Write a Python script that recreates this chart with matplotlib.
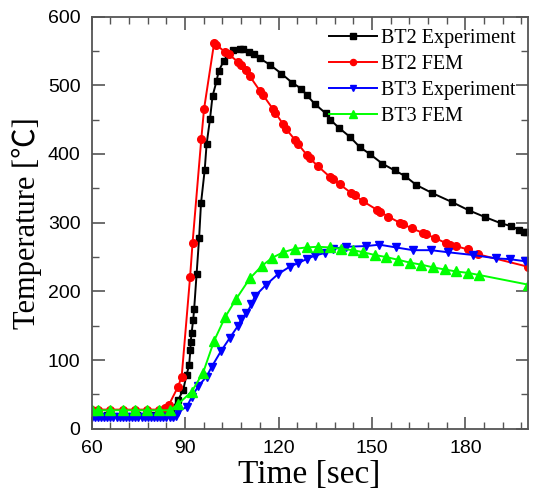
import matplotlib
matplotlib.use("Agg")
import matplotlib.pyplot as plt

# Datos (tiempo [s], temperatura [C])
bt2_exp_t = [60.1, 65.0, 69.9, 74.7, 79.6, 84.0, 85.6, 87.8, 89.4, 90.5, 91.3, 91.7, 91.8,
             92.1, 92.6, 92.9, 93.7, 94.5, 95.1, 96.3, 96.9, 98.0, 98.8, 100.1, 100.8,
             102.5, 103.8, 105.4, 107.5, 108.6, 110.5, 112.1, 114.0, 117.2, 120.9, 124.3,
             127.3, 129.0, 131.6, 135.2, 136.6, 139.4, 142.9, 146.1, 149.3, 153.3, 157.3,
             160.6, 164.2, 169.4, 175.7, 181.1, 186.4, 191.5, 194.7, 197.1, 198.7, 199.6]
bt2_exp_T = [20, 20, 20, 20, 20, 22, 28, 42, 57, 79, 93, 115, 127,
             140, 159, 174, 226, 278, 328, 377, 414, 451, 484, 506, 521,
             536, 545, 552, 553, 553, 549, 545, 539, 530, 517, 504,
             495, 486, 473, 459, 450, 438, 425, 410, 400, 386, 376,
             368, 355, 343, 330, 318, 308, 299, 295, 290, 287, 286]

bt2_fem_t = [60.1, 62.1, 66.0, 69.9, 73.8, 77.7, 81.6, 83.5, 84.8, 87.7, 88.9, 91.6, 92.4,
             95.2, 96.1, 99.3, 100.0, 102.9, 104.0, 107.0, 108.0, 109.5, 110.8, 114.0, 115.0,
             118.1, 119.0, 121.5, 122.5, 125.2, 126.2, 129.0, 130.0, 132.7, 136.4, 137.4,
             139.6, 143.4, 144.4, 147.2, 151.5, 152.5, 155.2, 158.9, 159.9, 162.7, 166.4,
             167.4, 170.1, 173.9, 174.9, 177.0, 180.8, 184.1, 200.0]
bt2_fem_T = [28, 28, 28, 28, 28, 28, 28, 30, 35, 61, 76, 221, 271,
             422, 466, 561, 559, 548, 545, 534, 529, 522, 513, 492, 486,
             466, 460, 443, 436, 421, 415, 399, 394, 382, 367, 364,
             356, 343, 340, 331, 319, 316, 309, 300, 298, 292, 285,
             283, 278, 270, 268, 266, 261, 254, 236]

bt3_exp_t = [60.1, 61.0, 62.0, 63.0, 64.0, 65.0, 66.0, 67.0, 68.0, 69.0, 70.0, 71.0, 72.0,
             73.0, 74.0, 75.0, 76.0, 77.0, 78.0, 79.0, 80.0, 81.0, 82.0, 83.0, 84.0, 85.0,
             86.0, 87.0, 87.8, 90.5, 92.1, 94.2, 96.9, 98.5, 101.5, 104.3, 107.0, 108.1,
             109.7, 111.3, 112.4, 116.1, 119.8, 123.6, 126.2, 129.0, 131.6, 134.9, 137.5,
             141.8, 148.2, 152.4, 157.7, 163.2, 169.0, 174.4, 182.4, 189.9, 194.2, 199.0, 200.0]
bt3_exp_T = [17, 17, 17, 17, 17, 17, 17, 17, 17, 17, 17, 17, 17,
             17, 17, 17, 17, 17, 17, 17, 17, 17, 17, 17, 17, 17,
             17, 18, 25, 32, 46, 62, 76, 90, 113, 132, 150, 160,
             168, 181, 193, 210, 225, 236, 241, 247, 252, 256, 262,
             265, 266, 268, 264, 260, 260, 257, 253, 248, 247, 244, 243]

bt3_fem_t = [60.1, 62.1, 66.0, 69.9, 73.8, 77.7, 81.6, 85.1, 87.7, 92.1, 95.8, 99.3, 102.9,
             106.4, 110.8, 114.6, 118.0, 121.5, 125.2, 129.0, 132.7, 136.4, 140.1, 143.9,
             147.2, 150.9, 154.6, 158.4, 162.1, 165.8, 169.6, 173.3, 177.0, 180.8, 184.3, 200.0]
bt3_fem_T = [27, 27, 27, 27, 27, 27, 27, 27, 36, 54, 82, 128, 163,
             189, 219, 237, 249, 257, 262, 264, 265, 264, 262, 260,
             257, 253, 250, 246, 242, 239, 235, 232, 229, 227, 224, 210]

serif = ["Liberation Serif", "Noto Sans CJK SC", "DejaVu Sans"]

fig = plt.figure(figsize=(5.33, 5.01), dpi=100)
ax = fig.add_axes([0.172, 0.144, 0.818, 0.823])

ax.plot(bt2_exp_t, bt2_exp_T, color="black", marker="s", markersize=5, lw=1.4,
        label="BT2 Experiment")
ax.plot(bt2_fem_t, bt2_fem_T, color="red", marker="o", markersize=5.5, lw=1.4,
        label="BT2 FEM")
ax.plot(bt3_exp_t, bt3_exp_T, color="blue", marker="v", markersize=6, lw=1.4,
        label="BT3 Experiment")
ax.plot(bt3_fem_t, bt3_fem_T, color="#00ff00", marker="^", markersize=6.5, lw=1.4,
        label="BT3 FEM")

ax.set_xlim(60, 200)
ax.set_ylim(0, 600)
ax.set_xticks([60, 90, 120, 150, 180])
ax.set_xticks(range(60, 201, 6), minor=True)
ax.set_yticks(range(0, 601, 100))
ax.set_yticks(range(0, 601, 50), minor=True)

for s in ax.spines.values():
    s.set_color("#555555")
    s.set_linewidth(1.3)
ax.tick_params(which="both", direction="in", top=True, right=True, colors="#555555",
               labelcolor="black", labelsize=14)
ax.tick_params(which="major", length=9, width=1.2, pad=8)
ax.tick_params(which="minor", length=5, width=1.0)
for lab in ax.get_xticklabels() + ax.get_yticklabels():
    lab.set_family("Liberation Sans")

ax.set_xlabel("Time [sec]", family=serif, fontsize=24, labelpad=2)
ax.set_ylabel("Temperature [℃]", family=serif, fontsize=22, labelpad=4)

leg = ax.legend(loc="upper right", frameon=False, prop={"family": serif, "size": 14.5},
                handlelength=2.4, handletextpad=0.2, labelspacing=0.35,
                borderaxespad=0.2, markerscale=0.8)

plt.savefig("out.png", dpi=100)
